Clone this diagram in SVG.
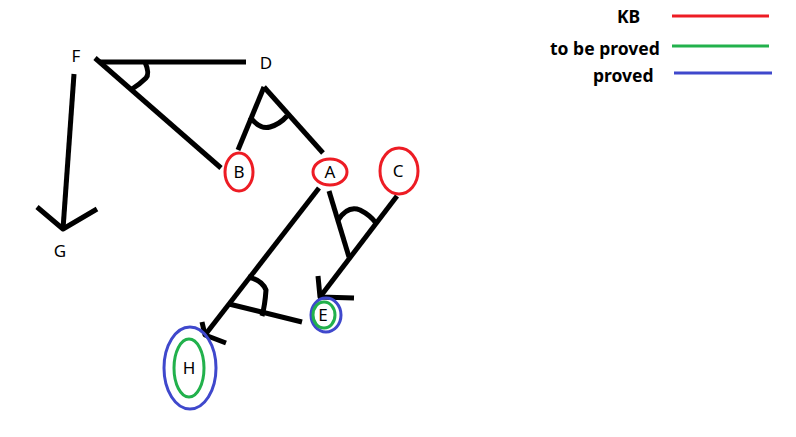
<svg xmlns="http://www.w3.org/2000/svg" width="796" height="437" viewBox="0 0 796 437">
<style>
.lbl{font-family:"Noto Sans","Open Sans",sans-serif;font-size:17px;fill:#000;text-anchor:middle}
.leg{font-family:"Noto Sans","Open Sans",sans-serif;font-size:17.5px;font-weight:bold;fill:#000;text-anchor:start}
.e{stroke:#000;stroke-width:5;fill:none;stroke-linecap:butt;stroke-linejoin:round}
.kb{stroke:#ed1c24;stroke-width:3;fill:none}
.tbp{stroke:#22b14c;stroke-width:3;fill:none}
.pr{stroke:#3f48cc;stroke-width:3;fill:none}
</style>
<rect width="796" height="437" fill="#fff"/>
<g id="legend">
<text class="leg" x="617" y="23">KB</text>
<line class="kb" x1="672" y1="16" x2="769" y2="16"/>
<text class="leg" x="550" y="55">to be proved</text>
<line class="tbp" x1="672" y1="46" x2="769" y2="46"/>
<text class="leg" x="593" y="82">proved</text>
<line class="pr" x1="674" y1="73" x2="772" y2="73"/>
</g>
<g id="connectors">
<path class="e" d="M100,62 L246,62"/>
<path class="e" d="M95,58 L221,168"/>
<path class="e" d="M145,62 Q150,74 146,78 Q140,84 132,89"/>
<path class="e" d="M74,74 L63,229"/>
<path class="e" d="M37,207 L63,229 L97,209"/>
<path class="e" d="M264,87 L238,150"/>
<path class="e" d="M264,87 L323,153"/>
<path class="e" d="M250,117 Q260,130 270,127 Q280,124 287,116"/>
<path class="e" d="M319,188 L205,335"/>
<path class="e" d="M202,322 L205,335 L226,343"/>
<path class="e" d="M302,322 L229,304"/>
<path class="e" d="M248,277 Q262,280 266,290 Q265,305 262,316"/>
<path class="e" d="M329,191 L349,257"/>
<path class="e" d="M397,196 L320,297"/>
<path class="e" d="M318,276 L320,297 L354,298"/>
<path class="e" d="M338,220 Q348,205 360,210 Q370,215 376,223"/>
</g>
<g id="node-F"><text class="lbl" x="76" y="62">F</text></g>
<g id="node-D"><text class="lbl" x="266" y="69">D</text></g>
<g id="node-G"><text class="lbl" x="60" y="257">G</text></g>
<g id="node-B"><ellipse class="kb" cx="239" cy="172" rx="14" ry="19"/><text class="lbl" x="239" y="178">B</text></g>
<g id="node-A"><ellipse class="kb" cx="330" cy="172" rx="17" ry="13"/><text class="lbl" x="330" y="178">A</text></g>
<g id="node-C"><ellipse class="kb" cx="399" cy="171" rx="19" ry="23"/><text class="lbl" x="398" y="177">C</text></g>
<g id="node-E"><ellipse class="pr" cx="326" cy="315" rx="15" ry="17"/><ellipse class="tbp" cx="324" cy="315" rx="11" ry="13"/><text class="lbl" x="323" y="321">E</text></g>
<g id="node-H"><ellipse class="pr" cx="190" cy="368" rx="26" ry="41"/><ellipse class="tbp" cx="189" cy="368" rx="15" ry="29"/><text class="lbl" x="189" y="374">H</text></g>
</svg>
